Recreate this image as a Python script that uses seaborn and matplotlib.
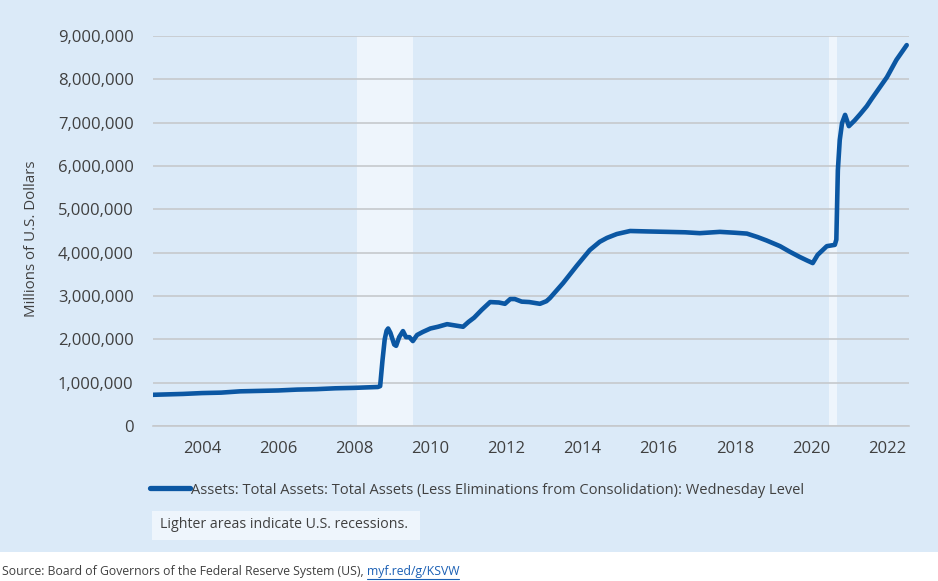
import seaborn as sns
import matplotlib.pyplot as plt
import pandas as pd
from matplotlib.patches import Rectangle
from matplotlib.lines import Line2D
from matplotlib.ticker import FuncFormatter

# Fed total assets (millions of US dollars)
years = [2002.71, 2003.5, 2004.0, 2004.5, 2005.0, 2005.5, 2006.0, 2006.5, 2007.0, 2007.5,
         2008.0, 2008.3, 2008.62, 2008.68, 2008.74, 2008.8, 2008.85, 2008.89, 2008.95, 2009.05,
         2009.1, 2009.18, 2009.28, 2009.36, 2009.45, 2009.54, 2009.65, 2009.8, 2010.0, 2010.2,
         2010.44, 2010.65, 2010.86, 2011.0, 2011.15, 2011.35, 2011.57, 2011.8, 2011.96, 2012.1,
         2012.22, 2012.4, 2012.6, 2012.88, 2013.05, 2013.14, 2013.49, 2013.85, 2014.19, 2014.45,
         2014.64, 2014.9, 2015.25, 2015.7, 2016.22, 2016.7, 2017.08, 2017.61, 2018.0, 2018.32,
         2018.6, 2018.84, 2019.19, 2019.45, 2019.71, 2019.9, 2020.05, 2020.18, 2020.3, 2020.42,
         2020.63, 2020.67, 2020.71, 2020.76, 2020.82, 2020.9, 2021.0, 2021.15, 2021.3, 2021.47,
         2021.6, 2021.8, 2022.0, 2022.25, 2022.52]
assets = [720000, 740000, 760000, 770000, 800000, 810000, 820000, 840000, 850000, 870000,
          880000, 890000, 900000, 920000, 1500000, 2000000, 2200000, 2250000, 2150000, 1880000,
          1850000, 2050000, 2190000, 2050000, 2050000, 1960000, 2100000, 2170000, 2250000, 2290000,
          2350000, 2320000, 2290000, 2400000, 2500000, 2680000, 2860000, 2850000, 2820000, 2930000,
          2930000, 2870000, 2860000, 2820000, 2880000, 2950000, 3300000, 3700000, 4060000, 4250000,
          4340000, 4430000, 4500000, 4490000, 4480000, 4470000, 4450000, 4480000, 4460000, 4440000,
          4360000, 4280000, 4150000, 4020000, 3900000, 3820000, 3760000, 3950000, 4050000, 4150000,
          4180000, 4300000, 5900000, 6600000, 6990000, 7180000, 6920000, 7050000, 7200000, 7380000,
          7550000, 7800000, 8050000, 8450000, 8790000]

recession_starts = [2008.07, 2020.47]
recession_ends = [2009.54, 2020.68]

x_ticks = [2004, 2006, 2008, 2010, 2012, 2014, 2016, 2018, 2020, 2022]
y_ticks = [0, 1000000, 2000000, 3000000, 4000000, 5000000, 6000000, 7000000, 8000000, 9000000]

series_label = 'Assets: Total Assets: Total Assets (Less Eliminations from Consolidation): Wednesday Level'

df = pd.DataFrame({'Year': years, 'Assets': assets})

sns.set_style('white')
plt.rcParams['font.family'] = ['Open Sans', 'DejaVu Sans']

bg = '#dbeaf8'
light = '#eef5fc'
line_color = '#0b57a3'
text_color = '#404040'
grid_color = '#c6c9cc'

fig = plt.figure(figsize=(9.38, 5.81), dpi=100, facecolor='white')
fig.patches.append(Rectangle((0, 1 - 552 / 581), 1, 552 / 581, transform=fig.transFigure,
                             facecolor=bg, edgecolor='none', zorder=-10))

ax = fig.add_axes([153 / 938, 1 - 426 / 581, (909 - 153) / 938, (426 - 36) / 581])
ax.set_facecolor(bg)

for a, b in zip(recession_starts, recession_ends):
    ax.axvspan(a, b, color=light, lw=0, zorder=0.2)

sns.lineplot(data=df, x='Year', y='Assets', color=line_color, linewidth=3.3, ax=ax,
             solid_joinstyle='round', solid_capstyle='round', zorder=3)

ax.set_xlim(years[0], 2022.58)
ax.set_ylim(0, 9000000)
ax.set_xticks(x_ticks)
ax.set_xticklabels([str(t) for t in x_ticks])
ax.set_yticks(y_ticks)
ax.yaxis.set_major_formatter(FuncFormatter(lambda v, p: f'{v:,.0f}'))
ax.set_xlabel('')
ax.set_ylabel('')
ax.set_axisbelow(True)
ax.grid(axis='y', color=grid_color, linewidth=1.2)
ax.grid(axis='x', visible=False)
for side in ['left', 'right', 'top']:
    ax.spines[side].set_visible(False)
ax.spines['bottom'].set_color(grid_color)
ax.spines['bottom'].set_linewidth(1.2)
ax.tick_params(axis='both', length=0, labelsize=12, labelcolor=text_color)
ax.tick_params(axis='x', pad=11)
ax.tick_params(axis='y', pad=14)

fig.text(32 / 938, 1 - 239 / 581, 'Millions of U.S. Dollars', rotation=90, ha='center',
         va='center', fontsize=10.8, color=text_color)

handle = Line2D([], [], color=line_color, linewidth=3.8, solid_capstyle='round')
ax.legend([handle], [series_label], loc='center left', frameon=False,
          bbox_to_anchor=(150 / 938, 1 - 490 / 581), bbox_transform=fig.transFigure,
          fontsize=10.5, handlelength=2.75, handletextpad=0.05, borderpad=0, borderaxespad=0,
          labelcolor=text_color)

fig.patches.append(Rectangle((152 / 938, 1 - 540 / 581), (420 - 152) / 938, 29 / 581,
                             transform=fig.transFigure, facecolor=light, edgecolor='none', zorder=1))
fig.text(160 / 938, 1 - 525 / 581, 'Lighter areas indicate U.S. recessions.', ha='left',
         va='center', fontsize=10.2, color=text_color, zorder=2)

src = fig.text(0.002, 1 - 571 / 581, 'Source: Board of Governors of the Federal Reserve System (US), ',
               ha='left', va='center', fontsize=8.8, color=text_color)
fig.canvas.draw()
bb = src.get_window_extent()
link = fig.text(bb.x1 / 938, 1 - 571 / 581, 'myf.red/g/KSVW', ha='left', va='center',
                fontsize=8.8, color='#1a5fb4')
fig.canvas.draw()
lb = link.get_window_extent()
fig.lines.append(Line2D([lb.x0 / 938, lb.x1 / 938], [(lb.y0 - 1) / 581] * 2,
                        transform=fig.transFigure, color='#1a5fb4', linewidth=0.8))

plt.savefig('out.png', dpi=100, facecolor='white')
